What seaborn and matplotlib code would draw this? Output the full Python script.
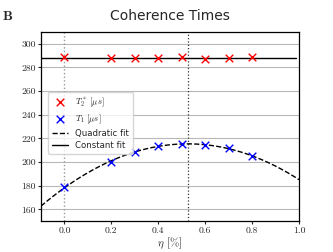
import numpy as np
import pandas as pd
import matplotlib
matplotlib.use("Agg")
import matplotlib.pyplot as plt
import seaborn as sns
from matplotlib.ticker import FuncFormatter

eta = [0.0, 0.2, 0.3, 0.4, 0.5, 0.6, 0.7, 0.8]
t2_star = [288.5, 288.0, 288.3, 288.0, 288.5, 287.2, 288.0, 288.6]
t1 = [178.6, 200.5, 208.5, 213.5, 215.6, 214.8, 211.6, 205.0]

df = pd.DataFrame({"eta": eta, "T2": t2_star, "T1": t1})

sns.set_style("ticks")
plt.rcParams["mathtext.fontset"] = "cm"
plt.rcParams["font.family"] = ["DejaVu Sans"]

fig = plt.figure(figsize=(3.33, 2.52), dpi=100)
ax = fig.add_axes([0.123, 0.122, 0.775, 0.751])

# fits
quad = np.polyfit(df["eta"], df["T1"], 2)
x_fit = np.linspace(-0.1, 1.0, 200)
const = df["T2"].mean()
vertex = -quad[1] / (2 * quad[0])

ax.yaxis.grid(True, color="#b8b8b8", lw=0.8)
ax.set_axisbelow(True)
ax.axvline(0.0, color="#999999", ls=":", lw=1.0)
ax.axvline(vertex, color="#333333", ls=":", lw=0.9)

sns.scatterplot(data=df, x="eta", y="T2", marker="x", color="red", s=30,
                linewidth=1.0, label=r"$T_2^*$ [$\mu s$]", ax=ax, zorder=3)
sns.scatterplot(data=df, x="eta", y="T1", marker="x", color="blue", s=30,
                linewidth=1.0, label=r"$T_1$ [$\mu s$]", ax=ax, zorder=3)
ax.plot(x_fit, np.polyval(quad, x_fit), "k--", lw=1.0, label="Quadratic fit")
ax.axhline(const, xmax=0.99, color="k", lw=1.0, label="Constant fit")

ax.set_xlim(-0.1, 1.0)
ax.set_ylim(150, 310)
ax.set_xticks([0.0, 0.2, 0.4, 0.6, 0.8, 1.0])
ax.set_yticks([160, 180, 200, 220, 240, 260, 280, 300])
ax.xaxis.set_major_formatter(FuncFormatter(lambda v, p: "%.1f" % v))
ax.yaxis.set_major_formatter(FuncFormatter(lambda v, p: "%d" % v))
ax.tick_params(labelsize=7, length=2.5, width=0.8, pad=1.2)
plt.setp(ax.get_xticklabels() + ax.get_yticklabels(), fontfamily="cmr10")
for sp in ax.spines.values():
    sp.set_color("k")
    sp.set_linewidth(0.9)

ax.set_xlabel(r"$\eta$ [%]", fontsize=8, fontfamily="cmr10")
ax.xaxis.set_label_coords(0.5, -0.075)
ax.set_ylabel("")
ax.set_title("Coherence Times", fontsize=10, pad=9)
fig.text(0.005, 0.965, r"$\mathbf{B}$", fontsize=10, va="top")

leg = ax.legend(loc="center left", fontsize=6.2, frameon=True, handlelength=1.8,
                borderpad=0.5, labelspacing=0.35, handletextpad=0.8,
                bbox_to_anchor=(0.01, 0.52))
for t in leg.get_texts()[:2]:
    t.set_fontfamily("cmr10")

fig.savefig("out.png", dpi=100)
